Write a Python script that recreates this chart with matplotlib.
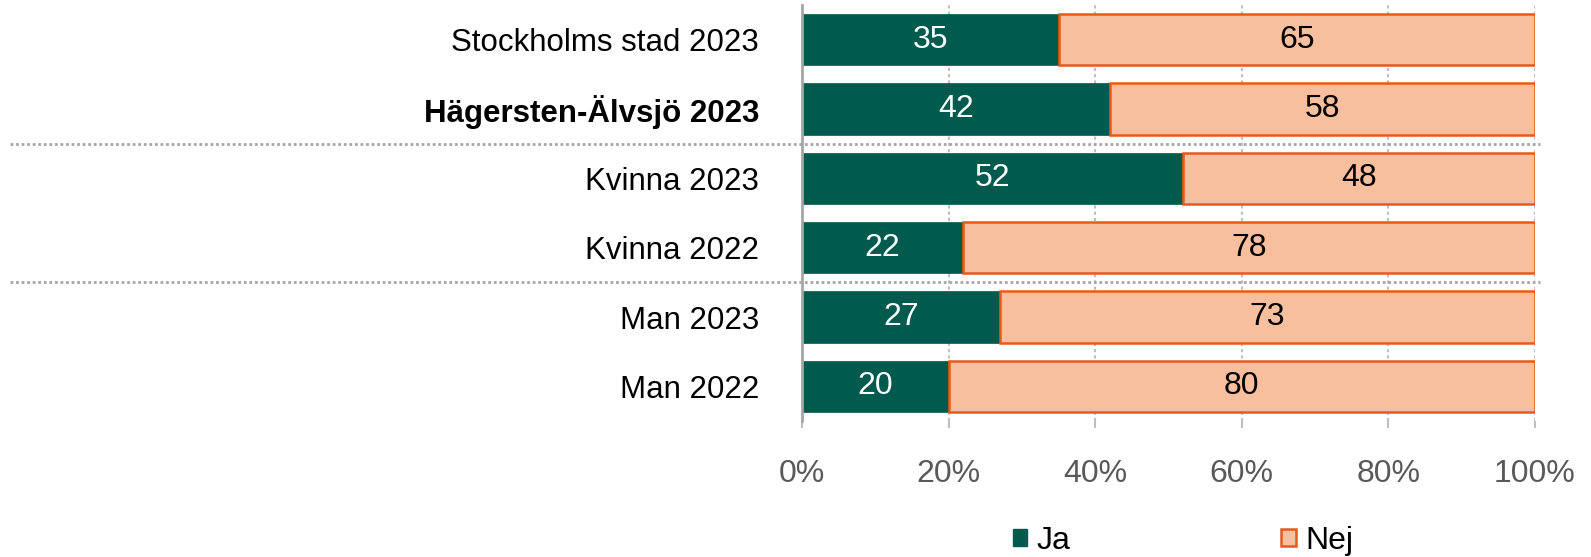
import matplotlib.pyplot as plt
from matplotlib.patches import Patch
import numpy as np

plt.rcParams["font.family"] = ["Liberation Sans", "DejaVu Sans"]

categories = [
    "Stockholms stad 2023",
    "Hägersten-Älvsjö 2023",
    "Kvinna 2023",
    "Kvinna 2022",
    "Man 2023",
    "Man 2022",
]
ja = [35, 42, 52, 22, 27, 20]
nej = [65, 58, 48, 78, 73, 80]
bold_label = "Hägersten-Älvsjö 2023"
group_breaks = [1.5, 3.5]
xticks = [0, 20, 40, 60, 80, 100]

green = "#005A4E"
peach = "#F8BF9E"
orange = "#E8591A"
grey = "#595959"
fs = 23

fig = plt.figure(figsize=(15.91, 5.57), dpi=100)
ax = fig.add_axes([802 / 1591, 1 - 421 / 557, 733 / 1591, 416 / 557])

y = np.arange(len(categories))
h = 0.74
ax.barh(y, ja, height=h, color=green, edgecolor=green, linewidth=0.5, zorder=3)
ax.barh(y, nej, left=ja, height=h, color=peach, edgecolor=orange,
        linewidth=1.8, zorder=3)

for yi, a, b in zip(y, ja, nej):
    ax.text(a / 2, yi, str(a), ha="center", va="center", color="white",
            fontsize=fs, zorder=4)
    ax.text(a + b / 2, yi, str(b), ha="center", va="center", color="black",
            fontsize=fs, zorder=4)

ax.set_xlim(0, 100)
ax.set_ylim(len(categories) - 0.5, -0.5)
ax.set_yticks(y)
ax.set_yticklabels(categories, fontsize=22.5)
for lbl in ax.get_yticklabels():
    if lbl.get_text() == bold_label:
        lbl.set_fontweight("bold")
ax.set_xticks(xticks)
ax.set_xticklabels([f"{t}%" for t in xticks], fontsize=fs, color=grey)
ax.tick_params(axis="y", length=0, pad=31)
ax.tick_params(axis="x", length=5, color="#BFBFBF", width=1.5, pad=22)

ax.grid(axis="x", color="#BFBFBF", linestyle=(0, (1.5, 1.5)), linewidth=1.5,
        zorder=0)
for s in ["top", "right", "bottom"]:
    ax.spines[s].set_visible(False)
ax.spines["left"].set_color("#A6A6A6")
ax.spines["left"].set_linewidth(2)
ax.spines["left"].set_zorder(5)

# dotted separators between the groups, running across the label area
for yb in group_breaks:
    ax.axhline(yb, xmin=-1.08, xmax=1.007, color="#A6A6A6",
               linestyle=(0, (1, 1)), linewidth=2, clip_on=False, zorder=2)

handles = [
    Patch(facecolor=green, edgecolor=green, label="Ja"),
    Patch(facecolor=peach, edgecolor=orange, linewidth=1.8, label="Nej"),
]
fig.legend(handles=handles, loc="center", ncol=2, frameon=False,
           bbox_to_anchor=(1183 / 1591, 1 - 541 / 557), fontsize=fs,
           handlelength=0.45, handleheight=0.45, handletextpad=0.3,
           columnspacing=6.6)

fig.savefig("out.png", dpi=100)
